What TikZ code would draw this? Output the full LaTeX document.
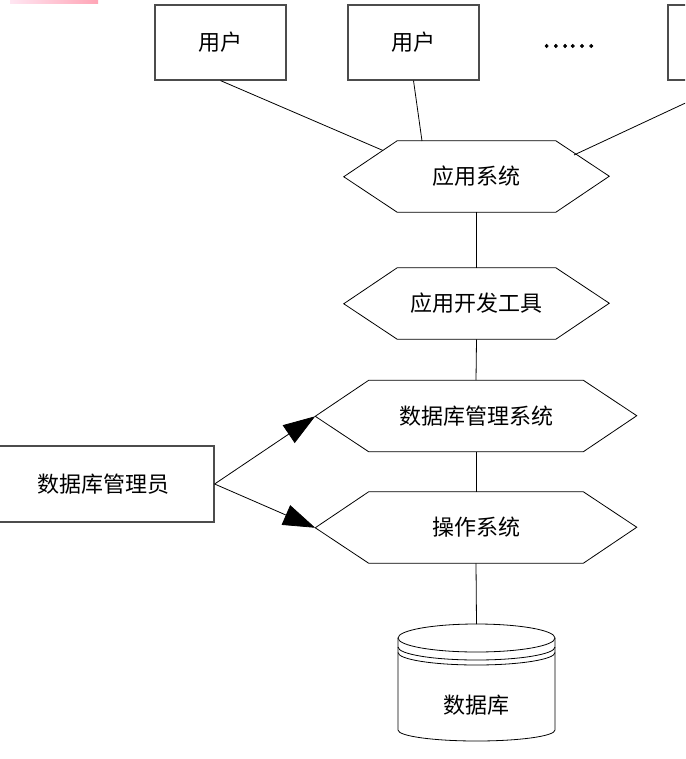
\documentclass[tikz,border=0pt]{standalone}
\usepackage{fontspec}
\setmainfont{Noto Sans CJK SC}
\newfontfamily\dotsfont[FakeBold=2.5]{Noto Sans CJK SC}
\usetikzlibrary{arrows.meta,calc}
\newcommand\pxu{0.75pt}
\newcommand\hexa[5]{%
  \node[hexin, minimum width=#4*\pxu] (#1) at (#2,#3) {#5};
  \draw[hexline] (#1.north west) -- (#1.north east) -- ++(53.5,35.5) coordinate (#1-r)
    -- (#1.south east) -- (#1.south west) -- ++(-53.5,-35.5) coordinate (#1-l) -- cycle;}
\definecolor{pkL}{RGB}{255,230,242}
\definecolor{pkR}{RGB}{255,165,182}
\begin{document}
\begin{tikzpicture}[x=0.75pt,y=-0.75pt,
  font=\fontsize{16.5}{19}\selectfont,
  ubox/.style={draw=black!70, line width=0.9pt, minimum width=131*\pxu, minimum height=75*\pxu, inner sep=0},
  hexin/.style={minimum height=71*\pxu, inner sep=0},
  hexline/.style={draw, line width=0.6pt},
  conn/.style={line width=0.6pt},
  arr/.style={conn, -{Triangle[length=24pt,width=16pt]}}]
\useasboundingbox (0,0) rectangle (685,759);
\clip (0,0) rectangle (685,759);
\fill[white] (0,0) rectangle (685,759);
\shade[left color=pkL, right color=pkR] (10,0) rectangle (98,3.5);
% users
\node[ubox] (u1) at (220.5,42.5) {用户};
\node[ubox] (u2) at (413.5,42.5) {用户};
\node[ubox] (u3) at (733.5,42.5) {};
\node[font=\dotsfont\fontsize{18.5}{20}\selectfont] (dots) at (568.5,46) {……};
% hexagons
\hexa{h1}{476.5}{176.5}{158}{应用系统}
\hexa{h2}{476.5}{303.5}{158}{应用开发工具}
\hexa{h3}{476}{416}{214}{数据库管理系统}
\hexa{h4}{476}{527.5}{214}{操作系统}
% user connectors
\coordinate (e1) at (383,150.5);
\coordinate (e2) at (422,141);
\coordinate (e3) at (574,155);
\draw[conn] (u1.south) -- (e1);
\draw[conn] (u2.south) -- (e2);
\draw[conn] (u3.south) -- (e3);
% vertical connectors
\coordinate (dbtop) at (476.5,624);
\draw[conn] (h1.south) -- (h2.north);
\draw[conn] (h2.south) -- (h3.north);
\draw[conn] (h3.south) -- (h4.north);
\draw[conn] (h4.south) -- (dbtop);
% admin
\node[ubox, minimum width=222*\pxu, minimum height=76*\pxu] (adm) at (103,484) {数据库管理员};
\draw[arr] (adm.east) -- (h3-l);
\draw[arr] (adm.east) -- (h4-l);
% database cylinder
\draw[hexline] (398,638) -- (398,730) arc[start angle=180, end angle=0, x radius=78.5, y radius=11] -- (555,638);
\draw[hexline] (476.5,638) ellipse[x radius=78.5, y radius=14];
\draw[hexline] (398,647) arc[start angle=180, end angle=0, x radius=78.5, y radius=13];
\draw[hexline] (398,652.5) arc[start angle=180, end angle=0, x radius=78.5, y radius=12.5];
\node (db) at (476.5,705) {数据库};
\end{tikzpicture}
\end{document}
